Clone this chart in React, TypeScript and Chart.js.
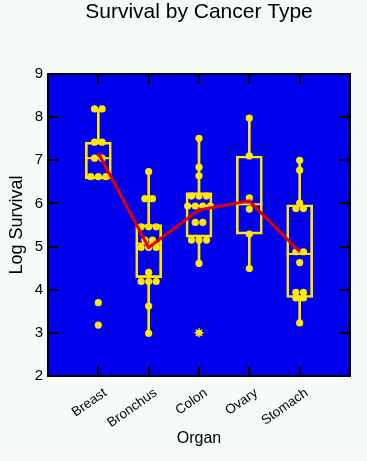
import React, { useEffect, useRef } from "react";
import { Chart, registerables } from "chart.js";

Chart.register(...registerables);

// ---- data ----
const organs = ["Breast", "Bronchus", "Colon", "Ovary", "Stomach"];
const yTicks = [2, 3, 4, 5, 6, 7, 8, 9];

const breast = [8.19, 8.19, 7.42, 7.42, 7.05, 7.05, 6.62, 6.62, 6.62, 3.7, 3.18];
const bronchus = [6.74, 6.11, 6.11, 5.46, 5.46, 5.46, 5.15, 5.15, 4.98, 4.98, 4.98, 4.4, 4.19, 4.19, 4.19, 3.62, 2.99];
const colon = [7.51, 6.84, 6.64, 6.17, 6.17, 6.17, 5.94, 5.94, 5.94, 5.94, 5.56, 5.56, 5.15, 5.15, 5.15, 4.61];
const colonExtreme = [3.0];
const ovary = [7.98, 7.1, 6.13, 5.87, 5.29, 4.49];
const stomach = [7.0, 6.77, 6.01, 5.88, 5.88, 4.88, 4.88, 4.63, 3.94, 3.94, 3.81, 3.81, 3.23];

const q1 = [6.57, 4.28, 5.22, 5.29, 3.82];
const median = [7.05, 5.07, 5.94, 5.98, 4.83];
const q3 = [7.42, 5.51, 6.25, 7.1, 5.97];
const whiskerLow = [6.57, 2.99, 4.61, 4.49, 3.23];
const whiskerHigh = [8.19, 6.74, 7.51, 7.98, 7.0];
const means = [7.17, 4.98, 5.85, 6.06, 4.88];

// ---- styles ----
const PAGE = "#F7FBF7";
const BLUE = "#0000EE";
const YELLOW = "#FFE800";
const RED = "#E00000";
const FONT = "'Liberation Sans', Arial, Helvetica, sans-serif";

function spread(values: number[], center: number) {
  const sorted = [...values].sort((a, b) => b - a);
  const groups: number[][] = [];
  for (const v of sorted) {
    const g = groups[groups.length - 1];
    if (g && Math.abs(g[0] - v) < 0.06) g.push(v);
    else groups.push([v]);
  }
  const pts: { x: number; y: number }[] = [];
  for (const g of groups) {
    g.forEach((v, i) => pts.push({ x: center + (i - (g.length - 1) / 2) * 0.15, y: v }));
  }
  return pts;
}

const bgPlugin = {
  id: "bgPlugin",
  beforeDraw(chart: any) {
    const { ctx, chartArea, width, height } = chart;
    ctx.save();
    ctx.fillStyle = PAGE;
    ctx.fillRect(0, 0, width, height);
    ctx.fillStyle = BLUE;
    ctx.fillRect(chartArea.left, chartArea.top, chartArea.right - chartArea.left, chartArea.bottom - chartArea.top);
    ctx.restore();
  },
};

export default function App() {
  const ref = useRef<HTMLCanvasElement | null>(null);

  useEffect(() => {
    document.body.style.margin = "0";
    document.body.style.background = PAGE;
    if (!ref.current) return;

    const grid = { drawOnChartArea: false, color: "#000", lineWidth: 2, tickLength: -10, offset: false };
    const border = { display: true, color: "#000", width: 2 };
    const catTicks = (s: any) => {
      s.ticks = organs.map((_, i) => ({ value: i + 1 }));
    };
    const valTicks = (s: any) => {
      s.ticks = yTicks.map((v) => ({ value: v }));
    };

    const allPoints = [
      ...spread(breast, 1),
      ...spread(bronchus, 2),
      ...spread(colon, 3),
      ...spread(ovary, 4),
      ...spread(stomach, 5),
    ];
    const extremePts = colonExtreme.map((v) => ({ x: 3, y: v }));

    const chart = new Chart(ref.current, {
      type: "scatter",
      data: {
        datasets: [
          {
            type: "line",
            data: means.map((v, i) => ({ x: i + 1, y: v })),
            borderColor: RED,
            borderWidth: 3,
            pointRadius: 0,
            tension: 0,
            fill: false,
            order: 0,
          } as any,
          {
            type: "scatter",
            data: allPoints,
            pointRadius: 3.6,
            pointBackgroundColor: YELLOW,
            pointBorderWidth: 0,
            order: 1,
          } as any,
          {
            type: "scatter",
            data: extremePts,
            pointRadius: 3,
            pointBackgroundColor: YELLOW,
            pointBorderWidth: 0,
            order: 1,
          } as any,
          {
            type: "scatter",
            data: extremePts,
            pointStyle: "star",
            pointRadius: 4.5,
            pointBorderColor: YELLOW,
            pointBorderWidth: 1.5,
            order: 1,
          } as any,
          {
            type: "scatter",
            data: median.map((v, i) => ({ x: i + 1, y: v })),
            pointStyle: "line",
            pointRadius: 13,
            pointBorderColor: YELLOW,
            pointBorderWidth: 2,
            order: 2,
          } as any,
          {
            type: "bar",
            data: q1.map((v, i) => ({ x: i + 1, y: [v, q3[i]] })),
            barThickness: 26,
            grouped: false,
            backgroundColor: "rgba(0,0,0,0)",
            borderColor: YELLOW,
            borderWidth: 2,
            borderSkipped: false,
            order: 3,
          } as any,
          {
            type: "bar",
            data: q3.map((v, i) => ({ x: i + 1, y: [v, whiskerHigh[i]] })),
            barThickness: 2,
            grouped: false,
            backgroundColor: YELLOW,
            borderWidth: 0,
            order: 4,
          } as any,
          {
            type: "bar",
            data: q1.map((v, i) => ({ x: i + 1, y: [whiskerLow[i], v] })),
            barThickness: 2,
            grouped: false,
            backgroundColor: YELLOW,
            borderWidth: 0,
            order: 4,
          } as any,
        ],
      },
      options: {
        responsive: false,
        animation: false,
        events: [],
        layout: { padding: 0 },
        plugins: { legend: { display: false }, tooltip: { enabled: false }, title: { display: false } },
        scales: {
          x: {
            type: "linear",
            position: "bottom",
            offset: false,
            min: 0,
            max: 6,
            afterBuildTicks: catTicks,
            afterFit: (s: any) => {
              s.height = 85;
            },
            grid,
            border,
            ticks: {
              autoSkip: false,
              minRotation: 35,
              maxRotation: 35,
              labelOffset: 7,
              padding: 19,
              color: "#000",
              font: { family: FONT, size: 13.5 },
              callback: (v: any) => organs[Math.round(Number(v)) - 1] ?? "",
            },
            title: {
              display: true,
              text: "Organ",
              color: "#000",
              font: { family: FONT, size: 16 },
              padding: { top: 0, bottom: 13 },
            },
          },
          x2: {
            type: "linear",
            position: "top",
            axis: "x",
            offset: false,
            min: 0,
            max: 6,
            afterBuildTicks: catTicks,
            afterFit: (s: any) => {
              s.height = 74;
            },
            grid,
            border,
            ticks: { display: false },
            title: {
              display: true,
              text: "Survival by Cancer Type",
              color: "#000",
              font: { family: FONT, size: 21 },
              padding: { top: 0, bottom: 0 },
            },
          },
          y: {
            type: "linear",
            position: "left",
            min: 2,
            max: 9,
            afterBuildTicks: valTicks,
            afterFit: (s: any) => {
              s.width = 48;
            },
            grid,
            border,
            ticks: { padding: 15, color: "#000", font: { family: FONT, size: 15 } },
            title: {
              display: true,
              text: "Log Survival",
              color: "#000",
              font: { family: FONT, size: 18 },
              padding: { top: 6, bottom: 0 },
            },
          },
          y2: {
            type: "linear",
            position: "right",
            axis: "y",
            min: 2,
            max: 9,
            afterBuildTicks: valTicks,
            afterFit: (s: any) => {
              s.width = 17;
            },
            grid,
            border,
            ticks: { display: false },
          },
        } as any,
      },
      plugins: [bgPlugin],
    } as any);

    return () => chart.destroy();
  }, []);

  return <canvas ref={ref} width={367} height={461} style={{ display: "block" }} />;
}
